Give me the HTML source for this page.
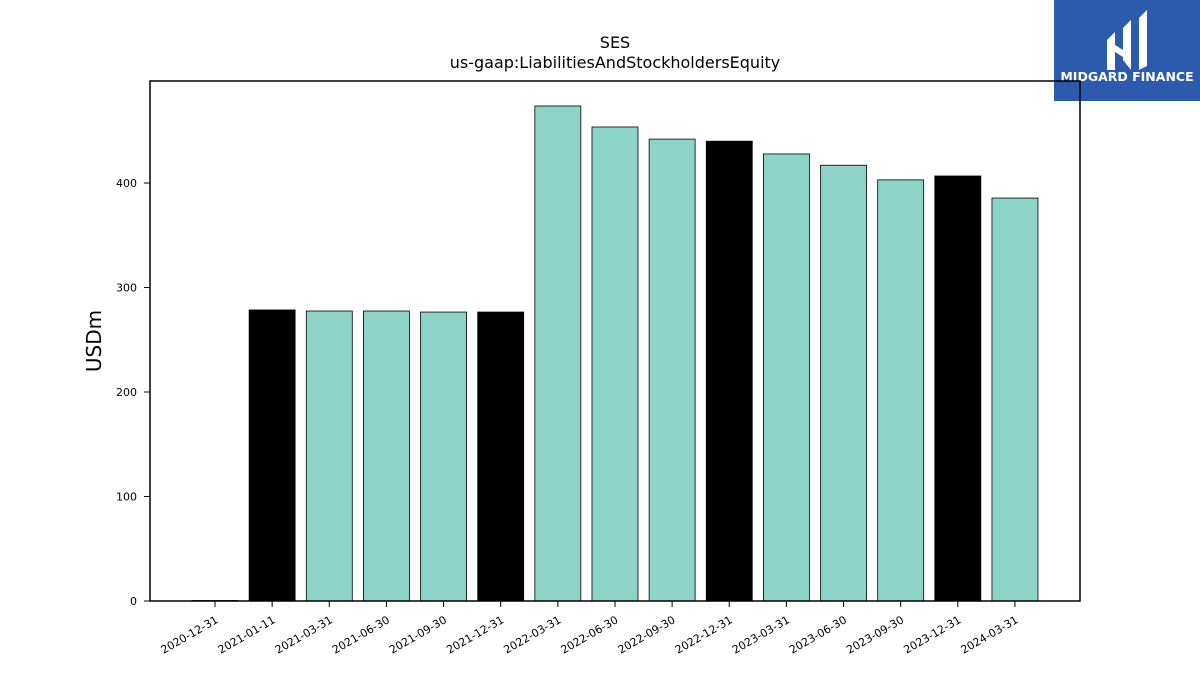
<!DOCTYPE html>
<html><head><meta charset="utf-8"><style>
body{margin:0;background:#fff;font-family:"DejaVu Sans","Liberation Sans",sans-serif}
</style></head><body>
<svg id="c" width="1200" height="675" xmlns="http://www.w3.org/2000/svg">
<rect x="1054" y="0" width="146" height="101" fill="#2c5aac"/>
<g fill="#fff">
<path d="M1107,40 L1115,32 L1115,70 L1107,70 Z"/>
<path d="M1123,28 L1131,20 L1131,70 L1123,60 Z"/>
<path d="M1139,18 L1147,10 L1147,66 L1139,70 Z"/>
<path d="M1115,45 L1131,55 L1131,62 L1115,52 Z"/>
</g>
<text x="1127" y="81" fill="#fff" font-size="12.5" font-weight="bold" text-anchor="middle">MIDGARD FINANCE</text>
<text x="615" y="48" font-size="16" text-anchor="middle">SES</text>
<text x="615" y="68" font-size="16" text-anchor="middle">us-gaap:LiabilitiesAndStockholdersEquity</text>
<text transform="translate(101,341) rotate(-90)" font-size="20" text-anchor="middle">USDm</text>
<g id="plot"></g>
<rect x="150" y="81" width="930" height="520" fill="none" stroke="#000" stroke-width="1.5"/>
</svg>
<script>
const categories=["2020-12-31","2021-01-11","2021-03-31","2021-06-30","2021-09-30","2021-12-31","2022-03-31","2022-06-30","2022-09-30","2022-12-31","2023-03-31","2023-06-30","2023-09-30","2023-12-31","2024-03-31"];
const values=[0.5,278.5,277.5,277.5,276.5,276.5,473.7,453.6,442,440,427.8,417,403,406.7,385.6];
const annual=[false,true,false,false,false,true,false,false,false,true,false,false,false,true,false];
const yTicks=[0,100,200,300,400];
const NS="http://www.w3.org/2000/svg";
const g=document.getElementById('plot');
const y=v=>601-v*1.045;
const x=i=>215+i*57.14;
function mk(t,a){const e=document.createElementNS(NS,t);for(const k in a)e.setAttribute(k,a[k]);g.appendChild(e);return e;}
yTicks.forEach(t=>{
 const l=mk('line',{x1:144,x2:150,y1:y(t),y2:y(t),stroke:'#000'});
 
 
 const tx=mk('text',{x:137,y:y(t)+4,'font-size':11,'text-anchor':'end'});tx.textContent=t;
 
 
});
categories.forEach((c,i)=>{
 const r=mk('rect',{x:x(i)-23,y:y(values[i]),width:46,height:values[i]*1.045,fill:annual[i]?'#000':'#8dd3c7',stroke:'#000','stroke-width':0.8});
 
 
 const l=mk('line',{x1:x(i),x2:x(i),y1:601,y2:607,stroke:'#000'});
 
 
 const tx=mk('text',{x:x(i)+4,y:622,'font-size':11,'text-anchor':'end',transform:`rotate(-30 ${x(i)+4} 622)`});tx.textContent=c;
 
 
});
</script>
</body></html>
